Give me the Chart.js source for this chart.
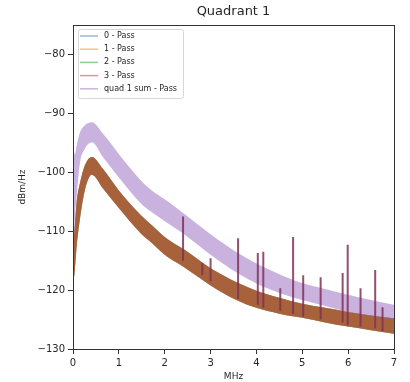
<!DOCTYPE html>
<html>
<head>
<meta charset="utf-8">
<script src="https://cdn.jsdelivr.net/npm/chart.js@4.4.0/dist/chart.umd.min.js"></script>
<style>
  html, body { margin: 0; padding: 0; background: #fff; }
  #wrap { width: 410px; height: 382px; }
</style>
</head>
<body>
<div id="wrap"><canvas id="chart" width="410" height="382"></canvas></div>
<script>
const freqMHz = [0, 0.02, 0.04, 0.08, 0.15, 0.26, 0.41, 0.66, 0.99, 1.47, 1.72, 2.0, 2.23, 2.4, 3.0, 3.6, 4.0, 4.5, 5.0, 5.5, 6.0, 6.5, 7.0];

// channels 0-3 overlap almost exactly: noise band top / bottom (dBm/Hz)
const chanUpper = [-114, -111, -109, -105, -101.9, -98.8, -97.4, -99.5, -103, -107.2, -109, -111, -112.2, -113, -116.3, -118.8, -120.1, -121.3, -122.3, -123, -123.7, -124.3, -124.8];
const chanLower = [-119, -118, -116.5, -112.5, -108, -103, -100.4, -102.8, -106, -110.3, -112, -114, -115.2, -116, -119.2, -121.8, -123, -124, -124.7, -125.5, -126.2, -126.8, -127.4];

// quad 1 sum band
const sumUpper = [-93, -96, -97, -95.5, -93.3, -92, -91.5, -93.5, -96.8, -101.3, -103.1, -104.6, -105.9, -106.9, -110.5, -113.7, -115.5, -117.3, -118.8, -119.8, -120.8, -121.7, -122.5];
const sumLower = [-116, -112, -108, -104, -98.5, -96, -94.9, -97.5, -100.8, -105.2, -106.8, -108.3, -109.5, -110.4, -114, -117.2, -118.9, -120.5, -121.7, -122.7, -123.7, -124.4, -125];

// narrow spurs
const spikeFreq = [2.4, 2.82, 3.0, 3.6, 4.03, 4.15, 4.52, 4.8, 5.02, 5.4, 5.88, 5.99, 6.27, 6.59, 6.75];
const spikeTop  = [-107.5, -115.4, -114.6, -111.2, -113.7, -113.5, -119.7, -111, -117.5, -117.8, -117.1, -112.3, -119.7, -116.6, -122.9];
const spikeBase = [-115, -117.5, -118.5, -121.5, -122.5, -123, -123.5, -124, -124.5, -125, -125.5, -126, -126.2, -126.5, -127];

const seriesLabels = ['0 - Pass', '1 - Pass', '2 - Pass', '3 - Pass', 'quad 1 sum - Pass'];
const seriesColors = ['rgba(31,119,180,0.5)', 'rgba(255,127,14,0.5)', 'rgba(44,160,44,0.5)', 'rgba(214,39,40,0.5)', 'rgba(148,103,189,0.5)'];

const xTickValues = [0, 1, 2, 3, 4, 5, 6, 7];
const yTickValues = [-130, -120, -110, -100, -90, -80];

const FONT = "'DejaVu Sans', sans-serif";
const INK = '#262626';

const toPoints = (ys) => freqMHz.map((x, i) => ({ x, y: ys[i] }));

function band(label, color, upper, lower) {
  return [
    { label: label + ' (low)', data: toPoints(lower), borderWidth: 0, pointRadius: 0, fill: false },
    { label, data: toPoints(upper), borderWidth: 0, pointRadius: 0, fill: '-1', backgroundColor: color },
  ];
}

const datasets = [];
for (let c = 0; c < 4; c++) {
  datasets.push(...band(seriesLabels[c], seriesColors[c], chanUpper, chanLower));
}
datasets.push(...band(seriesLabels[4], seriesColors[4], sumUpper, sumLower));
datasets.push({
  label: 'spurs',
  data: spikeFreq.flatMap((x, i) => [{ x, y: spikeBase[i] }, { x, y: spikeTop[i] }, { x, y: null }]),
  borderColor: 'rgba(128,48,88,0.85)',
  borderWidth: 2,
  pointRadius: 0,
  fill: false,
  spanGaps: false,
  cubicInterpolationMode: 'default',
  tension: 0,
});
// draw in the same order as matplotlib: channel 0 first, spurs last
datasets.forEach((d, i) => { d.order = datasets.length - i; });

// matplotlib-like frame, title and boxed legend inside the axes
const framePlugin = {
  id: 'frame',
  afterDraw(chart) {
    const { ctx, chartArea: a } = chart;
    ctx.save();
    ctx.strokeStyle = '#333';
    ctx.lineWidth = 1;
    ctx.strokeRect(Math.round(a.left) + 0.5, Math.round(a.top) + 0.5, Math.round(a.right - a.left), Math.round(a.bottom - a.top));

    ctx.fillStyle = INK;
    ctx.font = '13px ' + FONT;
    ctx.textAlign = 'center';
    ctx.textBaseline = 'middle';
    ctx.fillText('Quadrant 1', (a.left + a.right) / 2, 12);

    // legend
    const bx = a.left + 5, by = a.top + 4, bw = 105, bh = 69;
    ctx.fillStyle = 'rgba(255,255,255,0.8)';
    ctx.strokeStyle = '#d8d8d8';
    ctx.beginPath();
    ctx.roundRect(bx + 0.5, by + 0.5, bw, bh, 2);
    ctx.fill();
    ctx.stroke();
    ctx.font = '8px ' + FONT;
    ctx.textAlign = 'left';
    seriesLabels.forEach((lab, i) => {
      const y = by + 7 + i * 13.2;
      ctx.strokeStyle = seriesColors[i];
      ctx.lineWidth = 1.5;
      ctx.beginPath();
      ctx.moveTo(bx + 2, y);
      ctx.lineTo(bx + 20, y);
      ctx.stroke();
      ctx.fillStyle = INK;
      ctx.fillText(lab, bx + 26, y);
    });
    ctx.restore();
  }
};

new Chart(document.getElementById('chart'), {
  type: 'line',
  data: { datasets },
  options: {
    responsive: false,
    animation: false,
    events: [],
    elements: { line: { cubicInterpolationMode: 'monotone' } },
    layout: { padding: { top: 25, right: 16, bottom: 0, left: 0 } },
    plugins: {
      legend: { display: false },
      title: { display: false },
      tooltip: { enabled: false },
    },
    scales: {
      x: {
        type: 'linear',
        min: 0,
        max: 7,
        afterBuildTicks: (s) => { s.ticks = xTickValues.map(v => ({ value: v })); },
        afterFit: (s) => { s.height = 33; },
        grid: { drawOnChartArea: false, drawTicks: true, tickLength: 5, color: '#333' },
        border: { display: true, color: '#333' },
        ticks: { color: INK, font: { family: FONT, size: 10 }, padding: 3, maxRotation: 0 },
        title: { display: true, text: 'MHz', color: INK, font: { family: FONT, size: 9 }, padding: { top: 0, bottom: 0 } },
      },
      y: {
        type: 'linear',
        min: -130,
        max: -75,
        afterBuildTicks: (s) => { s.ticks = yTickValues.map(v => ({ value: v })); },
        afterFit: (s) => { s.width = 73; },
        grid: { drawOnChartArea: false, drawTicks: true, tickLength: 5, color: '#333' },
        border: { display: true, color: '#333' },
        ticks: {
          color: INK,
          font: { family: FONT, size: 10 },
          padding: 3,
          callback: (v) => String(v).replace('-', '\u2212'),
        },
        title: { display: true, text: 'dBm/Hz', color: INK, font: { family: FONT, size: 9 }, padding: { top: 17, bottom: 0 } },
      },
    },
  },
  plugins: [framePlugin],
});
</script>
</body>
</html>
